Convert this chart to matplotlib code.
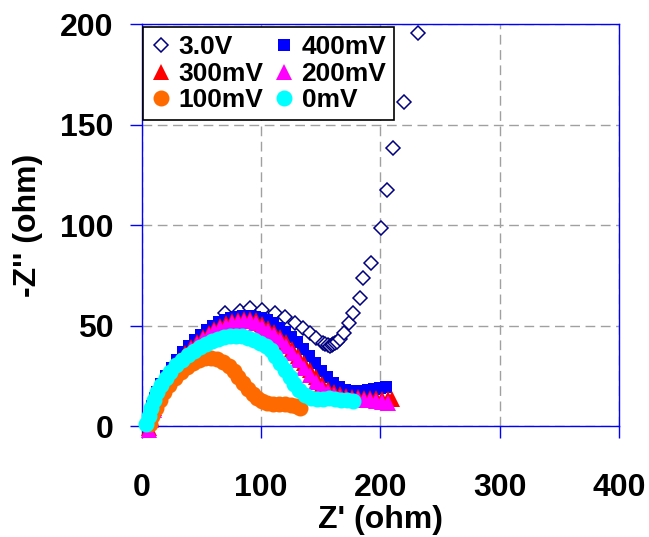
import matplotlib
matplotlib.use("Agg")
import matplotlib.pyplot as plt

plt.rcParams['font.family'] = ['Liberation Sans', 'DejaVu Sans']
plt.rcParams['font.weight'] = 'bold'

# 3.0V (open diamonds)
x_30 = [70, 82, 91, 101, 112, 120, 128.5, 135, 141, 146, 151.7, 154, 156.4, 158, 159.3, 160.5,
        162, 164, 166.2, 169.6, 173.8, 176.9, 183, 185.2, 192.2, 200.3, 205.4, 210.9, 219.9, 231.9]
y_30 = [56, 57, 58.5, 57.7, 56.4, 54.4, 51.1, 48.6, 46.1, 43.6, 41.4, 40.8, 40.3, 40, 40.3, 40.6,
        41.1, 42, 43.1, 46.4, 51.4, 56.4, 63.5, 73.5, 81.2, 98.3, 117.4, 138.2, 161.3, 195.4]

# 400mV
x_400 = [5, 7, 9, 11, 13, 16, 20, 25, 30, 35, 40, 45, 50, 55, 60, 65, 70, 75, 80, 85, 90, 95,
         100, 105, 110, 115, 120, 125, 130, 135, 140, 145, 150, 155, 160, 165, 170, 175, 180,
         185, 190, 195, 200, 205]
y_400 = [0, 5, 10, 14, 17, 21, 25, 29, 33, 37, 40, 43, 45.5, 48, 50, 51.5, 52.5, 53.5, 54, 54.5,
         54.5, 54, 53.5, 52.5, 51, 49, 47, 44.5, 42, 38.5, 35, 31.5, 27.5, 24.5, 21.5, 19.5, 18,
         17.5, 17.5, 17.5, 18, 18.5, 19, 19.5]

# 300mV
x_300 = [6, 8, 10, 12, 14, 17, 21, 26, 31, 36, 41, 46, 51, 56, 61, 66, 71, 76, 81, 86, 91, 96,
         101, 106, 111, 116, 121, 126, 131, 136, 141, 146, 151, 156, 161, 166, 171, 176, 181,
         186, 191, 196, 201, 206, 210]
y_300 = [-1, 4, 9, 13, 17, 21, 25, 29, 33, 36.5, 39.5, 42, 44.5, 46.5, 48.5, 50, 51, 52, 52.5,
         53, 53, 52.5, 50.5, 49, 47, 44.5, 42, 38.5, 35, 31.5, 28, 24.5, 21, 18.5, 17, 16, 15,
         14.5, 14.5, 14, 14, 14, 13.5, 13.5, 13.5]

# 200mV
x_200 = [6, 8, 10, 12, 14, 17, 21, 26, 31, 36, 41, 46, 51, 56, 61, 66, 71, 76, 81, 86, 91, 96,
         101, 106, 111, 116, 121, 126, 131, 136, 141, 146, 151, 156, 161, 166, 171, 176, 181,
         186, 191, 196, 201, 206]
y_200 = [-2, 3, 8, 12, 16, 20, 24, 28, 32, 35.5, 38.5, 41, 43.5, 45.5, 47.5, 49, 50, 51, 51.5,
         52, 52, 51, 49.5, 47.5, 45.5, 43, 40, 36.5, 33, 29, 25.5, 22, 19, 17, 15.5, 14.5, 14,
         13.5, 13.5, 13, 13, 12.5, 12, 11.5]

# 100mV
x_100 = [7, 9, 12, 15, 19, 23, 28, 33, 38, 43, 48, 53, 58, 63, 68, 73, 77, 81, 85, 89, 93, 97,
         101, 105, 110, 115, 120, 125, 129, 133]
y_100 = [1, 5, 9, 13, 17, 20.5, 24, 27, 29.5, 31.5, 33, 34, 34, 33.5, 32, 30, 27.5, 24.5, 21.5,
         18.5, 16, 14, 12.5, 11.5, 11, 11, 11, 10.5, 10, 9]

# 0mV
x_0 = [4, 6, 8, 10, 13, 16, 20, 24, 29, 34, 39, 44, 49, 54, 59, 64, 69, 74, 79, 84, 89, 94, 99,
       104, 108, 112, 116, 120, 124, 128, 132, 137, 142, 147, 152, 157, 162, 167, 172, 177]
y_0 = [1, 5, 9, 13, 17, 20.5, 24, 27, 30.5, 33, 35.5, 37.5, 39.5, 41, 42.5, 43.5, 44.5, 45, 45,
       45, 44, 43, 41.5, 40, 38, 35, 31.5, 28, 24.5, 21, 18, 15.5, 14, 13.5, 13.5, 14, 13.5, 13,
       13, 12.5]

x_ticks = [0, 100, 200, 300, 400]
y_ticks = [0, 50, 100, 150, 200]

fig = plt.figure(figsize=(6.49, 5.37), dpi=100)
ax = fig.add_axes([0.2183, 0.2067, 0.9538 - 0.2183, 0.9553 - 0.2067])

h30, = ax.plot(x_30, y_30, ls='none', marker='D', ms=7.6, mfc='white', mec='#000080', mew=1.1,
               label='3.0V', clip_on=False, zorder=3)
h400, = ax.plot(x_400, y_400, ls='none', marker='s', ms=9, color='#0000FF', mew=0,
                label='400mV', clip_on=False, zorder=4)
h300, = ax.plot(x_300, y_300, ls='none', marker='^', ms=11, color='#FF0000', mew=0,
                label='300mV', clip_on=False, zorder=5)
h200, = ax.plot(x_200, y_200, ls='none', marker='^', ms=11, color='#FF00FF', mew=0,
                label='200mV', clip_on=False, zorder=6)
h100, = ax.plot(x_100, y_100, ls='none', marker='o', ms=11.5, color='#FF6A00', mew=0,
                label='100mV', clip_on=False, zorder=7)
h0, = ax.plot(x_0, y_0, ls='none', marker='o', ms=11.5, color='#00FFFF', mew=0,
              label='0mV', clip_on=False, zorder=8)

ax.set_xlim(0, 400)
ax.set_ylim(0, 200)
ax.set_xticks(x_ticks)
ax.set_yticks(y_ticks)
ax.grid(True, color='#A0A0A0', ls=(0, (7, 4)), lw=1)
ax.set_axisbelow(True)

for s in ax.spines.values():
    s.set_color('#0000FF')
    s.set_linewidth(1)
ax.tick_params(direction='out', length=8.5, width=1, color='#0000FF', labelsize=23)
ax.tick_params(axis='x', pad=25)
ax.tick_params(axis='y', pad=12)

ax.set_xlabel("Z' (ohm)", fontsize=23, fontweight='bold', labelpad=1.5)
ax.set_ylabel("-Z'' (ohm)", fontsize=23, fontweight='bold', labelpad=12)

# legend fills row by row: 3.0V 400mV / 300mV 200mV / 100mV 0mV
handles = [h30, h300, h100, h400, h200, h0]
leg = ax.legend(handles=handles, loc='upper left', bbox_to_anchor=(0.002, 0.992), ncol=2,
                borderaxespad=0, fancybox=False, edgecolor='black', framealpha=1,
                handlelength=0.8, handletextpad=0.25, columnspacing=0.4,
                labelspacing=0.1, borderpad=0.3, prop={'weight': 'bold', 'size': 19})
leg.get_frame().set_linewidth(1.2)
leg.set_zorder(10)

fig.savefig('out.png', dpi=100)
